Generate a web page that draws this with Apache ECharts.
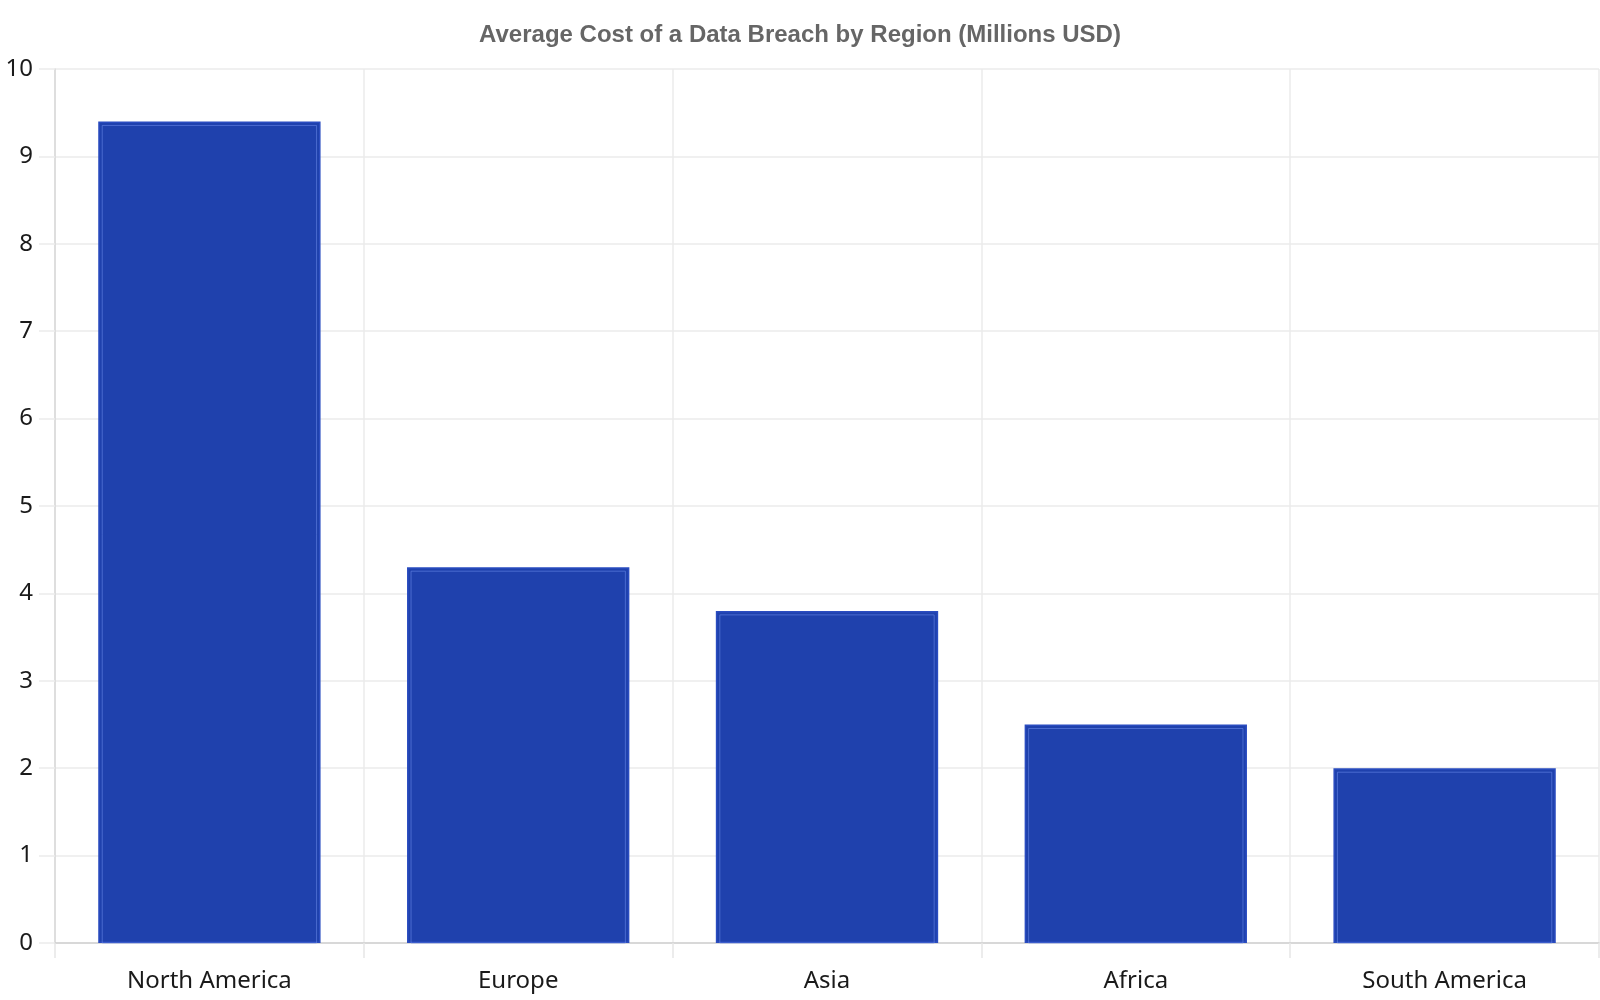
<!DOCTYPE html>
<html>
<head>
<meta charset="utf-8">
<title>Average Cost of a Data Breach by Region</title>
<script src="https://cdn.jsdelivr.net/npm/echarts@6/dist/echarts.min.js"></script>
<style>
  html, body { margin: 0; padding: 0; background: #fff; }
  #chart { width: 1600px; height: 1000px; }
</style>
</head>
<body>
<div id="chart"></div>
<script>
// data
var regions = ['North America', 'Europe', 'Asia', 'Africa', 'South America'];
var costs = [9.4, 4.3, 3.8, 2.5, 2.0];
var yTicks = [0, 10, 1]; // min, max, interval

var chart = echarts.init(document.getElementById('chart'));

// thin inner outline inside each bar
function renderInset(params, api) {
  var top = api.coord([api.value(0), api.value(1)]);
  var base = api.coord([api.value(0), 0]);
  var w = api.size([1, 0])[0] * 0.72;
  var pad = 4;
  return {
    type: 'rect',
    shape: {
      x: top[0] - w / 2 + pad,
      y: top[1] + pad,
      width: w - pad * 2,
      height: base[1] - top[1] - pad
    },
    style: {
      fill: null,
      stroke: 'rgba(110,140,235,0.55)',
      lineWidth: 1
    },
    silent: true
  };
}

var option = {
  animation: false,
  title: {
    text: 'Average Cost of a Data Breach by Region (Millions USD)',
    left: 'center',
    top: 18,
    textStyle: {
      fontFamily: 'Liberation Sans',
      fontSize: 24,
      fontWeight: 'bold',
      color: '#666'
    }
  },
  grid: {
    left: 55,
    right: 1,
    top: 69,
    bottom: 57
  },
  xAxis: {
    type: 'category',
    data: regions,
    axisLine: { lineStyle: { color: '#d0d0d0', width: 1.5 } },
    axisTick: { show: true, length: 15, lineStyle: { color: '#e6e6e6', width: 1.5 } },
    splitLine: { show: true, lineStyle: { color: '#ebebeb', width: 1.5 } },
    axisLabel: {
      margin: 26,
      fontFamily: 'Noto Sans',
      fontSize: 24,
      color: '#1a1a1a'
    }
  },
  yAxis: {
    type: 'value',
    min: yTicks[0],
    max: yTicks[1],
    interval: yTicks[2],
    axisLine: { show: true, lineStyle: { color: '#d8d8d8', width: 1.5 } },
    axisTick: { show: true, length: 16, lineStyle: { color: '#ebebeb', width: 1.5 } },
    splitLine: { show: true, lineStyle: { color: '#ebebeb', width: 1.5 } },
    axisLabel: {
      margin: 22,
      fontFamily: 'Noto Sans',
      fontSize: 24,
      color: '#1a1a1a'
    }
  },
  series: [{
    type: 'bar',
    data: costs,
    barCategoryGap: '28%',
    itemStyle: {
      color: '#1f41ad',
      borderColor: '#2a4cc0',
      borderWidth: 1.5
    }
  }, {
    type: 'custom',
    data: costs.map(function (v, i) { return [i, v]; }),
    renderItem: renderInset,
    z: 3
  }]
};
chart.setOption(option);
</script>
</body>
</html>
